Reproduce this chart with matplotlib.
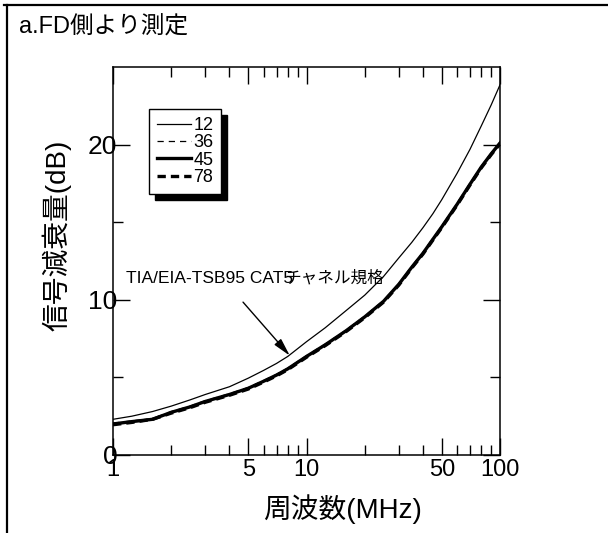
import numpy as np
import matplotlib
matplotlib.use('Agg')
import matplotlib.pyplot as plt
from matplotlib.lines import Line2D
from matplotlib.patches import Rectangle
from matplotlib.transforms import IdentityTransform
from matplotlib.ticker import NullFormatter, FixedLocator

plt.rcParams['font.family'] = ['Liberation Sans', 'Noto Sans CJK JP', 'DejaVu Sans']

# Attenuation (dB) vs frequency (MHz)
freq = [1, 1.25, 1.6, 2, 2.5, 3, 4, 5, 6, 7, 8, 10, 12.5, 16, 20, 25, 30,
        35, 40, 45, 50, 60, 70, 80, 90, 100]
pair12 = [2.3, 2.5, 2.8, 3.15, 3.55, 3.9, 4.4, 4.95, 5.45, 5.9, 6.35, 7.3,
          8.2, 9.3, 10.3, 11.5, 12.7, 13.7, 14.65, 15.55, 16.45, 18.15,
          19.7, 21.2, 22.55, 23.85]
pair36 = [2.05, 2.2, 2.35, 2.8, 3.15, 3.5, 3.95, 4.35, 4.8, 5.2, 5.6, 6.4,
          7.15, 8.05, 8.95, 9.95, 11.05, 12.15, 13.05, 13.95, 14.75, 16.2,
          17.5, 18.6, 19.45, 20.15]
pair45 = [2.0, 2.15, 2.3, 2.75, 3.1, 3.45, 3.9, 4.3, 4.75, 5.15, 5.55, 6.35,
          7.1, 8.0, 8.9, 9.9, 11.0, 12.1, 13.0, 13.9, 14.7, 16.15, 17.45,
          18.55, 19.4, 20.1]
pair78 = [1.95, 2.1, 2.3, 2.7, 3.05, 3.4, 3.85, 4.25, 4.7, 5.1, 5.5, 6.3,
          7.05, 7.95, 8.85, 9.85, 10.95, 12.05, 12.95, 13.85, 14.65, 16.1,
          17.4, 18.5, 19.35, 20.05]

xticks = [1, 5, 10, 50, 100]
xminor = [2, 3, 4, 6, 7, 8, 9, 20, 30, 40, 60, 70, 80, 90]
yticks = [0, 10, 20]
yminor = [5, 15]

fig = plt.figure(figsize=(6.08, 5.33), dpi=100)
ax = fig.add_axes([113 / 608, 78 / 533, 387 / 608, 388 / 533])

ax.plot(freq, pair12, color='k', lw=0.9, label='12')
ax.plot(freq, pair36, color='k', lw=0.9, ls=(0, (5, 4)), label='36')
ax.plot(freq, pair45, color='k', lw=2.4, label='45')
ax.plot(freq, pair78, color='k', lw=2.4, ls=(0, (2.5, 1.5)), label='78')

ax.set_xscale('log')
ax.set_xlim(1, 100)
ax.set_ylim(0, 25)
ax.xaxis.set_major_locator(FixedLocator(xticks))
ax.xaxis.set_minor_locator(FixedLocator(xminor))
ax.xaxis.set_minor_formatter(NullFormatter())
ax.set_xticklabels([str(v) for v in xticks])
ax.set_yticks(yticks)
ax.set_yticks(yminor, minor=True)

ax.tick_params(which='both', direction='in', top=True, right=True, width=1.0)
ax.tick_params(which='major', length=12)
ax.tick_params(which='minor', length=7)
ax.tick_params(axis='x', which='major', labelsize=17, pad=3)
ax.tick_params(axis='y', which='major', labelsize=19, pad=-3)
for s in ax.spines.values():
    s.set_linewidth(1.1)

fig.text(57 / 608, 1 - 235 / 533, '信号減衰量(dB)', rotation=90,
         ha='center', va='center', fontsize=20)
fig.text(342 / 608, 1 - 509 / 533, '周波数(MHz)', ha='center', va='center',
         fontsize=20)
fig.text(19 / 608, 1 - 27 / 533, 'a.FD側より測定', ha='left', va='center',
         fontsize=17)

# annotation for the standard curve
ax.text(0.034, 0.456, 'TIA/EIA-TSB95 CAT5', transform=ax.transAxes,
        ha='left', va='center', fontsize=12.5)
ax.text(0.444, 0.456, 'チャネル規格', transform=ax.transAxes,
        ha='left', va='center', fontsize=12)
ax.annotate('', xy=(8.2, 6.4), xytext=(0.336, 0.394),
            textcoords='axes fraction',
            arrowprops=dict(arrowstyle='-|>,head_length=0.9,head_width=0.22',
                            color='k', lw=1, mutation_scale=12,
                            shrinkA=0, shrinkB=0))

leg = ax.legend(loc='upper left', bbox_to_anchor=(0.093, 0.892),
                borderaxespad=0, fontsize=13, labelspacing=0.02,
                handlelength=1.9, handletextpad=0.1, borderpad=0.45,
                fancybox=False, edgecolor='k', framealpha=1)
leg.get_frame().set_linewidth(1.0)
leg.set_zorder(6)

fig.canvas.draw()
bb = leg.get_frame().get_window_extent()
shadow = Rectangle((bb.x0 + 6, bb.y0 - 6), bb.width, bb.height,
                   transform=IdentityTransform(), facecolor='k',
                   edgecolor='k', zorder=5.5, clip_on=False)
ax.add_artist(shadow)

# outer frame (top and left edges)
fig.add_artist(Line2D([4 / 608, 1], [1 - 5 / 533, 1 - 5 / 533], color='k',
                      lw=1.6, transform=fig.transFigure))
fig.add_artist(Line2D([7 / 608, 7 / 608], [0, 1 - 5 / 533], color='k',
                      lw=1.6, transform=fig.transFigure))

fig.savefig('out.png', dpi=100)
